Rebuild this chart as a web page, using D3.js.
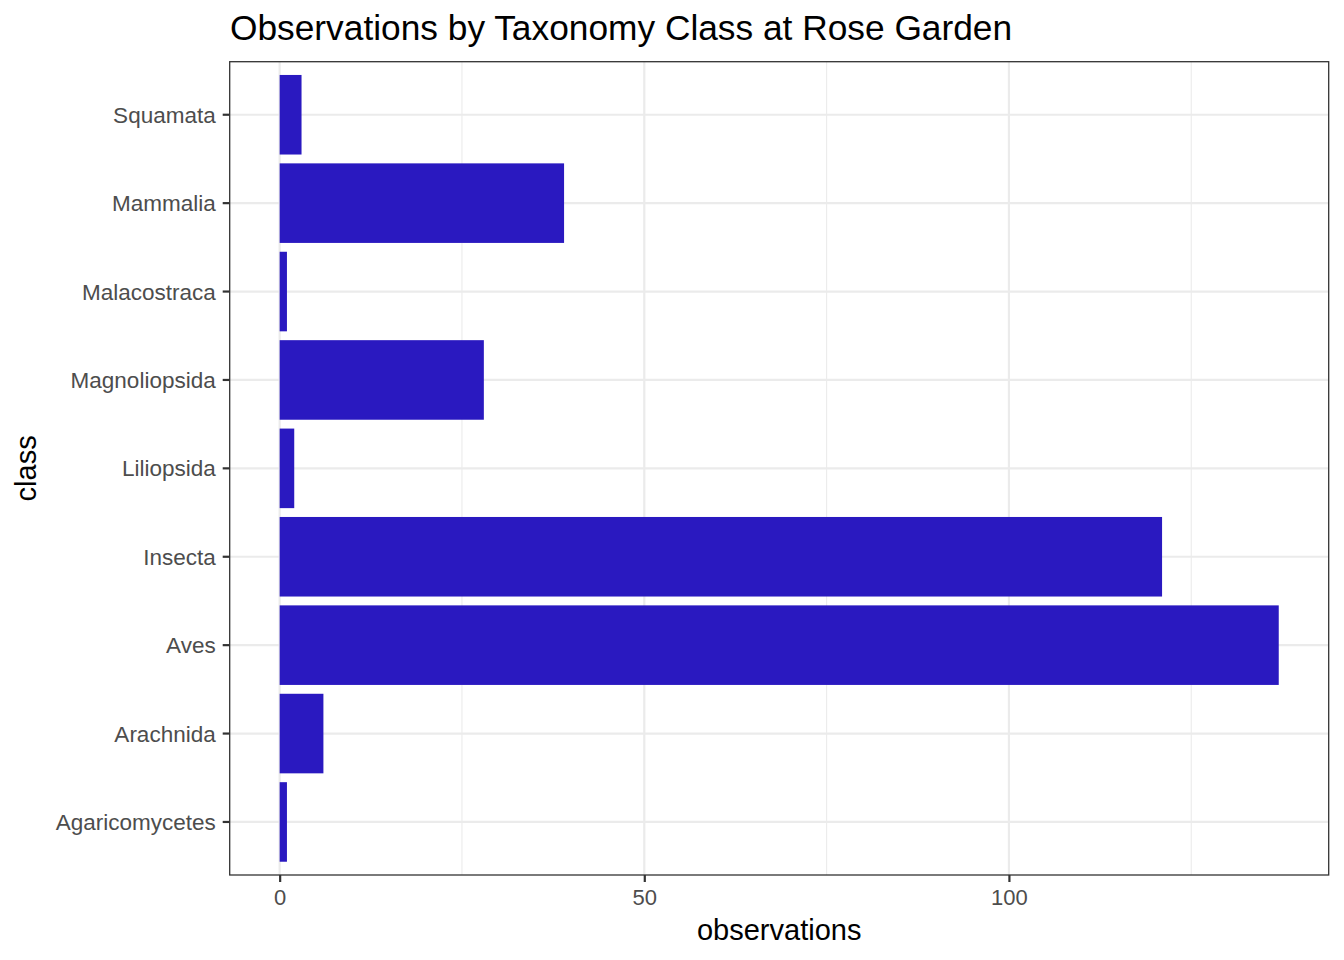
<!DOCTYPE html>
<html>
<head>
<meta charset="utf-8">
<script src="https://cdn.jsdelivr.net/npm/d3@7"></script>
<style>
  body { margin: 0; background: #fff; }
  text { font-family: "Liberation Sans", Arial, sans-serif; }
</style>
</head>
<body>
<svg id="chart" width="1344" height="960"></svg>
<script>
// data
let classes = ["Agaricomycetes", "Arachnida", "Aves", "Insecta", "Liliopsida",
               "Magnoliopsida", "Malacostraca", "Mammalia", "Squamata"];
let observations = [1, 6, 137, 121, 2, 28, 1, 39, 3];
let xTicks = [0, 50, 100];
let xMinor = [25, 75, 125];

let svg = d3.select("#chart");

let panelLeft = 229.7, panelRight = 1328.7, panelTop = 61.7, panelBottom = 875;
let barColor = "#2A19C0";
let tickColor = "#4D4D4D";
let fontFamily = "Liberation Sans, Arial, sans-serif";

// ggplot style expansion: 5% on continuous, 0.6 units on discrete
let maxV = d3.max(observations);
let x = d3.scaleLinear()
  .domain([-maxV * 0.05, maxV * 1.05])
  .range([panelLeft, panelRight]);

let y = d3.scaleBand()
  .domain(classes.slice().reverse())
  .range([panelTop, panelBottom])
  .paddingInner(0.1)
  .paddingOuter(0.15);

// minor grid
svg.selectAll(".minor")
  .data(xMinor)
  .enter()
  .append("line")
  .attr("x1", d => x(d))
  .attr("x2", d => x(d))
  .attr("y1", panelTop)
  .attr("y2", panelBottom)
  .style("stroke", "#EBEBEB")
  .style("stroke-width", 1.1);

// major grid
svg.selectAll(".majorx")
  .data(xTicks)
  .enter()
  .append("line")
  .attr("x1", d => x(d))
  .attr("x2", d => x(d))
  .attr("y1", panelTop)
  .attr("y2", panelBottom)
  .style("stroke", "#EBEBEB")
  .style("stroke-width", 2.2);

svg.selectAll(".majory")
  .data(classes)
  .enter()
  .append("line")
  .attr("x1", panelLeft)
  .attr("x2", panelRight)
  .attr("y1", d => y(d) + y.bandwidth() / 2)
  .attr("y2", d => y(d) + y.bandwidth() / 2)
  .style("stroke", "#EBEBEB")
  .style("stroke-width", 2.2);

// bars
svg.selectAll(".bar")
  .data(classes)
  .enter()
  .append("rect")
  .attr("x", x(0))
  .attr("y", d => y(d))
  .attr("width", (d, i) => x(observations[i]) - x(0))
  .attr("height", y.bandwidth())
  .style("fill", barColor);

// panel border
svg.append("rect")
  .attr("x", panelLeft)
  .attr("y", panelTop)
  .attr("width", panelRight - panelLeft)
  .attr("height", panelBottom - panelTop)
  .style("fill", "none")
  .style("stroke", "#333333")
  .style("stroke-width", 1.3);

// x axis
let xAxis = svg.append("g")
  .attr("transform", "translate(0," + panelBottom + ")")
  .call(d3.axisBottom(x).tickValues(xTicks).tickSize(7).tickPadding(7));
xAxis.select(".domain").remove();
xAxis.selectAll(".tick line").style("stroke", "#333333").style("stroke-width", 2.2);
xAxis.selectAll(".tick text")
  .style("fill", tickColor)
  .style("font-size", "22px")
  .style("font-family", fontFamily);

// y axis
let yAxis = svg.append("g")
  .attr("transform", "translate(" + panelLeft + ",0)")
  .call(d3.axisLeft(y).tickSize(7).tickPadding(7));
yAxis.select(".domain").remove();
yAxis.selectAll(".tick line").style("stroke", "#333333").style("stroke-width", 2.2);
yAxis.selectAll(".tick text")
  .attr("dy", "0.36em")
  .style("fill", tickColor)
  .style("font-size", "22.5px")
  .style("font-family", fontFamily);

// axis titles
svg.append("text")
  .attr("x", (panelLeft + panelRight) / 2)
  .attr("y", 940)
  .attr("text-anchor", "middle")
  .style("font-size", "29px")
  .text("observations");

svg.append("text")
  .attr("transform", "translate(36," + (panelTop + panelBottom) / 2 + ") rotate(-90)")
  .attr("text-anchor", "middle")
  .style("font-size", "29px")
  .text("class");

// title
svg.append("text")
  .attr("x", 230)
  .attr("y", 39.5)
  .style("font-size", "35.3px")
  .text("Observations by Taxonomy Class at Rose Garden");
</script>
</body>
</html>
